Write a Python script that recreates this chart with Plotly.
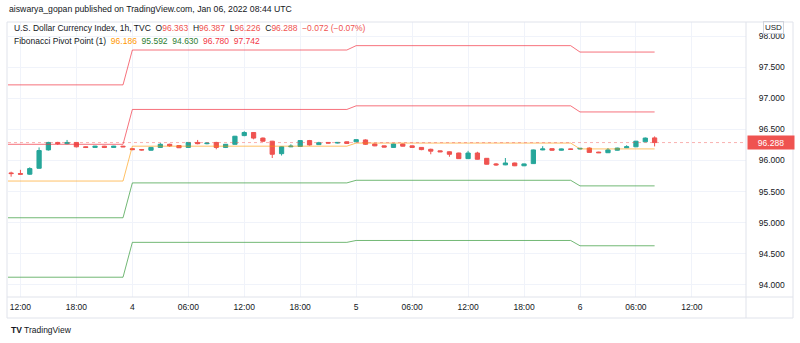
import pandas as pd
import plotly.graph_objects as go

# ---------------- data ----------------
times = pd.date_range("2022-01-03 11:00", periods=70, freq="h")

opens = [95.80, 95.79, 95.78, 95.875, 96.17, 96.29, 96.27, 96.29, 96.22, 96.21,
         96.23, 96.21, 96.23, 96.19, 96.175, 96.165, 96.21, 96.26, 96.24, 96.21,
         96.29, 96.27, 96.29, 96.21, 96.26, 96.40, 96.45, 96.36, 96.31, 96.11,
         96.22, 96.225, 96.32, 96.255, 96.29, 96.28, 96.30, 96.30, 96.33, 96.265,
         96.235, 96.21, 96.265, 96.235, 96.21, 96.18, 96.155, 96.14, 96.12, 96.03,
         96.12, 96.035, 95.945, 95.93, 95.96, 95.915, 95.95, 96.17, 96.19, 96.165,
         96.185, 96.185, 96.20, 96.135, 96.125, 96.165, 96.205, 96.22, 96.30, 96.363]
highs = [95.82, 95.85, 95.89, 96.21, 96.30, 96.30, 96.33, 96.295, 96.225, 96.235,
         96.235, 96.235, 96.235, 96.20, 96.185, 96.215, 96.28, 96.27, 96.245, 96.295,
         96.33, 96.29, 96.30, 96.265, 96.395, 96.47, 96.455, 96.37, 96.315, 96.225,
         96.26, 96.325, 96.33, 96.30, 96.295, 96.295, 96.305, 96.34, 96.34, 96.27,
         96.24, 96.27, 96.27, 96.24, 96.215, 96.19, 96.16, 96.145, 96.125, 96.155,
         96.14, 96.04, 95.96, 96.04, 95.965, 95.95, 96.175, 96.23, 96.195, 96.19,
         96.19, 96.20, 96.21, 96.14, 96.20, 96.205, 96.245, 96.315, 96.37, 96.387]
lows = [95.74, 95.775, 95.77, 95.87, 96.16, 96.25, 96.26, 96.21, 96.20, 96.205,
        96.20, 96.205, 96.215, 96.165, 96.16, 96.16, 96.205, 96.22, 96.20, 96.205,
        96.26, 96.26, 96.18, 96.20, 96.255, 96.39, 96.34, 96.30, 96.04, 96.08,
        96.215, 96.22, 96.24, 96.25, 96.275, 96.275, 96.27, 96.295, 96.25, 96.23,
        96.21, 96.205, 96.225, 96.205, 96.165, 96.10, 96.135, 96.06, 96.025, 96.025,
        96.015, 95.935, 95.915, 95.925, 95.91, 95.91, 95.945, 96.165, 96.16, 96.16,
        96.175, 96.18, 96.125, 96.12, 96.12, 96.16, 96.20, 96.215, 96.295, 96.226]
closes = [95.79, 95.78, 95.87, 96.16, 96.29, 96.27, 96.29, 96.22, 96.21, 96.23,
          96.21, 96.23, 96.22, 96.175, 96.17, 96.21, 96.26, 96.235, 96.205, 96.29,
          96.27, 96.28, 96.21, 96.26, 96.39, 96.45, 96.36, 96.31, 96.10, 96.22,
          96.23, 96.32, 96.25, 96.285, 96.28, 96.29, 96.275, 96.335, 96.26, 96.235,
          96.215, 96.265, 96.23, 96.21, 96.175, 96.15, 96.14, 96.10, 96.03, 96.12,
          96.02, 95.94, 95.93, 95.96, 95.915, 95.945, 96.17, 96.185, 96.165, 96.185,
          96.18, 96.195, 96.13, 96.125, 96.17, 96.20, 96.22, 96.31, 96.36, 96.288]

# Daily Fibonacci pivot levels (Jan 3, 4, 5, 6)
pivot_days = ["2022-01-03", "2022-01-04", "2022-01-05", "2022-01-06"]
pivot_p = [95.67, 96.23, 96.28, 96.186]
pivot_r1 = [96.26, 96.82, 96.878, 96.780]
pivot_r3 = [97.215, 97.775, 97.845, 97.742]
pivot_s1 = [95.08, 95.64, 95.682, 95.592]
pivot_s3 = [94.125, 94.685, 94.715, 94.630]

tick_vals = ["2022-01-03 12:00", "2022-01-03 18:00", "2022-01-04 00:00", "2022-01-04 06:00",
             "2022-01-04 12:00", "2022-01-04 18:00", "2022-01-05 00:00", "2022-01-05 06:00",
             "2022-01-05 12:00", "2022-01-05 18:00", "2022-01-06 00:00", "2022-01-06 06:00",
             "2022-01-06 12:00"]
tick_text = ["12:00", "18:00", "4", "06:00", "12:00", "18:00", "5", "06:00",
             "12:00", "18:00", "6", "06:00", "12:00"]
price_ticks = [94.0, 94.5, 95.0, 95.5, 96.0, 96.5, 97.0, 97.5, 98.0]
last_close = 96.288

# ---------------- figure ----------------
FONT = "Liberation Sans"
TXT = "#131722"
W, H = 800, 343
L, R, T, B = 8, 54, 22, 46
pw, ph = W - L - R, H - T - B


def px(x):
    return (x - L) / pw


def py(y):
    return (H - B - y) / ph


# pivot series built hourly from the daily values (line starts one hour before first candle)
piv_times = pd.date_range("2022-01-03 10:00", "2022-01-06 08:00", freq="h")
day_idx = {d: i for i, d in enumerate(pivot_days)}


def expand(vals):
    return [vals[day_idx[t.strftime("%Y-%m-%d")]] for t in piv_times]


fig = go.Figure()
pivot_styles = [
    (pivot_r3, "rgba(242,54,69,0.7)"),
    (pivot_r1, "rgba(242,54,69,0.7)"),
    (pivot_p, "rgba(255,152,0,0.6)"),
    (pivot_s1, "rgba(67,160,71,0.75)"),
    (pivot_s3, "rgba(67,160,71,0.75)"),
]
for vals, col in pivot_styles:
    fig.add_trace(go.Scatter(x=piv_times, y=expand(vals), mode="lines",
                             line=dict(color=col, width=1), hoverinfo="skip",
                             showlegend=False))

fig.add_trace(go.Candlestick(
    x=times, open=opens, high=highs, low=lows, close=closes,
    increasing=dict(line=dict(color="#26a69a", width=1), fillcolor="#26a69a"),
    decreasing=dict(line=dict(color="#ef5350", width=1), fillcolor="#ef5350"),
    whiskerwidth=0, showlegend=False))

shapes = [
    # last price dotted line
    dict(type="line", xref="paper", yref="y", x0=0, x1=1, y0=last_close, y1=last_close,
         line=dict(color="rgba(239,83,80,0.45)", width=1, dash="dot")),
    # panel frame
    dict(type="rect", xref="paper", yref="paper", x0=px(7), x1=px(793), y0=py(318), y1=py(22),
         line=dict(color="#e0e3eb", width=1)),
    dict(type="line", xref="paper", yref="paper", x0=px(7), x1=px(793), y0=py(297), y1=py(297),
         line=dict(color="#e0e3eb", width=1)),
    dict(type="line", xref="paper", yref="paper", x0=px(746), x1=px(746), y0=py(318), y1=py(22),
         line=dict(color="#e0e3eb", width=1)),
]

red = "#ef5350"
line1 = ("U.S. Dollar Currency Index, 1h, TVC&nbsp;&nbsp;"
         f"O<span style='color:{red}'>96.363</span>&nbsp;&nbsp;"
         f"H<span style='color:{red}'>96.387</span>&nbsp;&nbsp;"
         f"L<span style='color:{red}'>96.226</span>&nbsp;&nbsp;"
         f"C<span style='color:{red}'>96.288</span>&nbsp;&nbsp;"
         f"<span style='color:{red}'>−0.072 (−0.07%)</span>")
line2 = ("Fibonacci Pivot Point (1)&nbsp;&nbsp;"
         "<span style='color:#ff9800'>96.186</span>&nbsp;&nbsp;"
         "<span style='color:#2e7d32'>95.592</span>&nbsp;&nbsp;"
         "<span style='color:#2e7d32'>94.630</span>&nbsp;&nbsp;"
         "<span style='color:#f23645'>96.780</span>&nbsp;&nbsp;"
         "<span style='color:#f23645'>97.742</span>")

annotations = [
    dict(text="aiswarya_gopan published on TradingView.com, Jan 06, 2022 08:44 UTC",
         xref="paper", yref="paper", x=px(7), y=py(9), xanchor="left", yanchor="middle",
         showarrow=False, font=dict(family=FONT, size=8.7, color=TXT)),
    dict(text=line1, xref="paper", yref="paper", x=px(12), y=py(28), xanchor="left",
         yanchor="middle", showarrow=False, font=dict(family=FONT, size=8.5, color=TXT)),
    dict(text=line2, xref="paper", yref="paper", x=px(12), y=py(41), xanchor="left",
         yanchor="middle", showarrow=False, font=dict(family=FONT, size=8.5, color=TXT)),
    dict(text=f"{last_close:.3f}", xref="paper", yref="y", x=px(747), y=last_close,
         xanchor="left", yanchor="middle", showarrow=False, bgcolor=red, width=44, height=11,
         font=dict(family=FONT, size=8.5, color="white")),
    dict(text="USD", xref="paper", yref="paper", x=px(773), y=py(27), xanchor="center",
         yanchor="middle", showarrow=False, bordercolor="#d1d4dc", borderwidth=1, borderpad=1,
         font=dict(family=FONT, size=8, color=TXT)),
    dict(text="<b>TV</b> TradingView", xref="paper", yref="paper", x=px(9), y=py(330),
         xanchor="left", yanchor="middle", showarrow=False,
         font=dict(family=FONT, size=8.5, color=TXT)),
]

fig.update_layout(
    width=W, height=H,
    margin=dict(l=L, r=R, t=T, b=B, pad=0),
    paper_bgcolor="white", plot_bgcolor="white",
    boxgap=0.35,
    font=dict(family=FONT, size=8.5, color=TXT),
    shapes=shapes, annotations=annotations,
    xaxis=dict(type="date", range=["2022-01-03 10:40", "2022-01-06 17:48"],
               tickvals=tick_vals, ticktext=tick_text, showgrid=True, gridcolor="#f0f3fa",
               zeroline=False, showline=False, ticks="outside", ticklen=2,
               tickcolor="rgba(0,0,0,0)", rangeslider=dict(visible=False),
               tickfont=dict(family=FONT, size=8.5, color=TXT)),
    yaxis=dict(side="right", range=[93.807, 98.225], tickvals=price_ticks,
               tickformat=".3f", showgrid=True, gridcolor="#f0f3fa", zeroline=False,
               showline=False, ticks="outside", ticklen=10, tickcolor="rgba(0,0,0,0)",
               tickfont=dict(family=FONT, size=8.5, color=TXT)),
)

fig.write_html("out.html")
